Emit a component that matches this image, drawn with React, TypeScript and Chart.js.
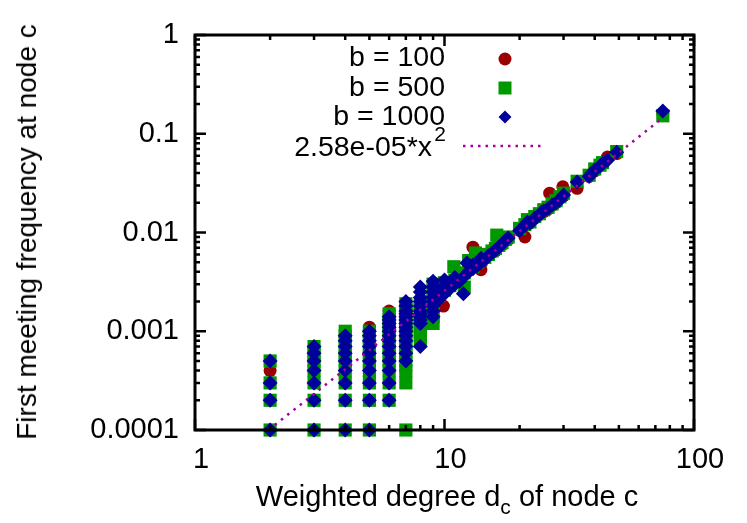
import React, { useEffect, useRef } from "react";
import { Chart, registerables } from "chart.js";

Chart.register(...registerables);

const FONT = "'Liberation Sans', Arial, Helvetica, sans-serif";

// Axis ticks
const xTickValues = [1, 10, 100];
const xTickLabels = ["1", "10", "100"];
const xMinorTicks = [2, 3, 4, 5, 6, 7, 8, 9, 20, 30, 40, 50, 60, 70, 80, 90];
const yTickValues = [1, 0.1, 0.01, 0.001, 0.0001];
const yTickLabels = ["1", "0.1", "0.01", "0.001", "0.0001"];
const yMinorTicks = [
  0.0002, 0.0003, 0.0004, 0.0005, 0.0006, 0.0007, 0.0008, 0.0009,
  0.002, 0.003, 0.004, 0.005, 0.006, 0.007, 0.008, 0.009,
  0.02, 0.03, 0.04, 0.05, 0.06, 0.07, 0.08, 0.09,
  0.2, 0.3, 0.4, 0.5, 0.6, 0.7, 0.8, 0.9,
];

// Series labels
const seriesLabels = ["b = 100", "b = 500", "b = 1000"];
const fitLabel = "2.58e-05*x";
const fitExponent = "2";

// Fit line end points
const fitX = [1.97, 75];
const fitY = [0.0001, 0.145];

// b = 100 (red circles): [degree, frequency]
const b100Points: [number, number][] = [
  [2, 0.0001], [2, 0.0002], [2, 0.0003], [2, 0.0004],
  [3, 0.0001], [3, 0.0002], [3, 0.0003], [3, 0.0004], [3, 0.0005], [3, 0.0006],
  [4, 0.0002], [4, 0.0003], [4, 0.0004], [4, 0.0005], [4, 0.0006], [4, 0.0007], [4, 0.0008], [4, 0.0009],
  [5, 0.0002], [5, 0.0003], [5, 0.0004], [5, 0.0005], [5, 0.0006], [5, 0.0007], [5, 0.0008], [5, 0.0009], [5, 0.001], [5, 0.0011],
  [6, 0.0003], [6, 0.0004], [6, 0.0005], [6, 0.0006], [6, 0.0007], [6, 0.0008], [6, 0.0009], [6, 0.001], [6, 0.0012], [6, 0.0014], [6, 0.0016],
  [7, 0.0004], [7, 0.0006], [7, 0.0007], [7, 0.0008], [7, 0.0009], [7, 0.001], [7, 0.0012], [7, 0.0014], [7, 0.0016], [7, 0.0019],
  [8, 0.001], [8, 0.0012], [8, 0.0014], [8, 0.0016], [8, 0.0018], [8, 0.002],
  [9, 0.0014], [9, 0.0017], [9, 0.002], [9, 0.0024], [9, 0.0028],
  [9.9, 0.0018], [10, 0.0027], [10.5, 0.003], [11, 0.0032], [11.5, 0.0034], [12, 0.0038], [12.5, 0.0042],
  [13, 0.0071], [13, 0.0045], [14, 0.0042], [14, 0.0052], [15, 0.006], [16, 0.0065], [17, 0.0075], [18, 0.0085],
  [20, 0.0105], [21, 0.009], [21, 0.012], [22, 0.0125], [23, 0.014], [24, 0.0152], [25, 0.0163], [26, 0.0172],
  [26.4, 0.025], [27, 0.0188], [28, 0.02], [29.8, 0.029], [30, 0.0235], [34, 0.028], [38, 0.037], [40, 0.042],
  [43, 0.05], [45, 0.058], [49, 0.063], [75, 0.16],
];

// b = 500 (green squares)
const b500Points: [number, number][] = [
  [2, 0.0001], [2, 0.0002], [2, 0.0003], [2, 0.0005],
  [3, 0.0001], [3, 0.0002], [3, 0.0003], [3, 0.0004], [3, 0.0005], [3, 0.0006], [3, 0.0007],
  [4, 0.0001], [4, 0.0002], [4, 0.0003], [4, 0.0004], [4, 0.0005], [4, 0.0006], [4, 0.0007], [4, 0.0008], [4, 0.0009], [4, 0.001],
  [5, 0.0001], [5, 0.0002], [5, 0.0003], [5, 0.0004], [5, 0.0005], [5, 0.0006], [5, 0.0007], [5, 0.0008], [5, 0.0009], [5, 0.001],
  [6, 0.0002], [6, 0.0003], [6, 0.0004], [6, 0.0005], [6, 0.0006], [6, 0.0007], [6, 0.0008], [6, 0.0009], [6, 0.001], [6, 0.0011], [6, 0.0012], [6, 0.0013], [6, 0.0015],
  [7, 0.0001], [7, 0.0003], [7, 0.0004], [7, 0.0005], [7, 0.0006], [7, 0.0007], [7, 0.0008], [7, 0.0009], [7, 0.001], [7, 0.0011], [7, 0.0012], [7, 0.0013], [7, 0.0014], [7, 0.0015], [7, 0.0016], [7, 0.0017], [7, 0.0019],
  [8, 0.0008], [8, 0.0009], [8, 0.001], [8, 0.0011], [8, 0.0012], [8, 0.0013], [8, 0.0014], [8, 0.0015], [8, 0.0016], [8, 0.0017], [8, 0.0018], [8, 0.0019],
  [9, 0.0012], [9, 0.0014], [9, 0.0016], [9, 0.0018], [9, 0.002], [9, 0.0023], [9, 0.0026], [9, 0.003],
  [9.5, 0.0023], [10, 0.0026], [10, 0.0031], [10.5, 0.0029], [10.9, 0.0045], [11, 0.0033], [11.5, 0.0035],
  [12, 0.0028], [12, 0.0039], [12.5, 0.0052], [13, 0.0045], [13.3, 0.0062], [13.5, 0.005], [14, 0.0053],
  [14.5, 0.0056], [15, 0.006], [15.5, 0.0065], [16, 0.0069], [16.2, 0.0094], [16.5, 0.0074], [17, 0.0079],
  [17.5, 0.0085], [18, 0.009], [20, 0.011], [21, 0.012], [21.5, 0.0135], [22, 0.0128], [23, 0.0145],
  [24, 0.0155], [25, 0.017], [26, 0.018], [27, 0.0195], [28, 0.021], [29, 0.023], [30, 0.025], [34, 0.033],
  [38, 0.038], [40, 0.044], [42, 0.048], [43, 0.051], [49, 0.066], [75, 0.152],
];

// b = 1000 (blue diamonds)
const b1000Points: [number, number][] = [
  [2, 0.0001], [2, 0.0002], [2, 0.0003], [2, 0.0005],
  [3, 0.0001], [3, 0.0002], [3, 0.0003], [3, 0.0004], [3, 0.0005], [3, 0.0006], [3, 0.0007],
  [4, 0.0001], [4, 0.0002], [4, 0.0003], [4, 0.0004], [4, 0.0005], [4, 0.0006], [4, 0.0007], [4, 0.0008], [4, 0.0009],
  [5, 0.0001], [5, 0.0002], [5, 0.0003], [5, 0.0004], [5, 0.0005], [5, 0.0006], [5, 0.0007], [5, 0.0008], [5, 0.0009], [5, 0.001],
  [6, 0.0002], [6, 0.0003], [6, 0.0004], [6, 0.0005], [6, 0.0006], [6, 0.0007], [6, 0.0008], [6, 0.0009], [6, 0.001], [6, 0.0011], [6, 0.0012], [6, 0.0013], [6, 0.0014],
  [7, 0.0005], [7, 0.0006], [7, 0.0007], [7, 0.0008], [7, 0.0009], [7, 0.001], [7, 0.0011], [7, 0.0012], [7, 0.0013], [7, 0.0014], [7, 0.0015], [7, 0.0016], [7, 0.0018], [7, 0.002],
  [8, 0.0007], [8, 0.0012], [8, 0.0013], [8, 0.0014], [8, 0.0015], [8, 0.0016], [8, 0.0018], [8, 0.002], [8, 0.0022], [8, 0.0025], [8, 0.0028],
  [9, 0.0014], [9, 0.0016], [9, 0.0018], [9, 0.002], [9, 0.0022], [9, 0.0025], [9, 0.0028], [9, 0.0032],
  [9.5, 0.0021], [9.5, 0.0026], [10, 0.0024], [10, 0.0028], [10, 0.0033], [10.5, 0.0027], [10.5, 0.0031],
  [11, 0.003], [11, 0.0035], [11.5, 0.0032], [11.9, 0.0024], [12, 0.0036], [12.3, 0.0049], [12.5, 0.004],
  [13, 0.0043], [13, 0.0047], [13.5, 0.0046], [14, 0.005], [14, 0.0055], [14.5, 0.0053], [15, 0.0058],
  [15.5, 0.0062], [16, 0.0066], [16.5, 0.0071], [17, 0.0076], [17.5, 0.0082], [18, 0.0088], [20, 0.0105],
  [21, 0.0118], [21.5, 0.0128], [22, 0.0125], [22.5, 0.013], [23, 0.014], [24, 0.015], [24.5, 0.016],
  [25, 0.0165], [26, 0.0175], [27, 0.019], [28, 0.02], [29, 0.0215], [30, 0.024], [34, 0.0325], [38, 0.037],
  [39, 0.04], [40, 0.043], [42, 0.047], [43, 0.05], [45, 0.054], [49, 0.065], [75, 0.17],
];

const RED = "#9a0000";
const GREEN = "#009a00";
const BLUE = "#00009a";
const PURPLE = "#a000a0";

const toXY = (pts: [number, number][]) => pts.map(([x, y]) => ({ x, y }));

const framePlugin = {
  id: "gnuFrame",
  afterDatasetsDraw(chart: any) {
    const { ctx, chartArea: a, scales } = chart;
    const xs = scales.x;
    const ys = scales.y;
    ctx.save();
    ctx.strokeStyle = "#000";
    ctx.lineWidth = 2.5;
    ctx.beginPath();
    const vt = (v: number, len: number) => {
      const px = xs.getPixelForValue(v);
      ctx.moveTo(px, a.bottom);
      ctx.lineTo(px, a.bottom - len);
      ctx.moveTo(px, a.top);
      ctx.lineTo(px, a.top + len);
    };
    const ht = (v: number, len: number) => {
      const py = ys.getPixelForValue(v);
      ctx.moveTo(a.left, py);
      ctx.lineTo(a.left + len, py);
      ctx.moveTo(a.right, py);
      ctx.lineTo(a.right - len, py);
    };
    xTickValues.forEach((v) => vt(v, 11));
    xMinorTicks.forEach((v) => vt(v, 5));
    yTickValues.forEach((v) => ht(v, 11));
    yMinorTicks.forEach((v) => ht(v, 5));
    ctx.stroke();
    ctx.lineWidth = 3;
    ctx.strokeRect(a.left, a.top, a.right - a.left, a.bottom - a.top);
    ctx.restore();
  },
  afterDraw(chart: any) {
    const { ctx } = chart;
    ctx.save();
    ctx.fillStyle = "#000";
    ctx.font = `28.5px ${FONT}`;
    ctx.textAlign = "right";
    ctx.textBaseline = "middle";
    const textRight = 445;
    const markX = 505;
    const rows = [58, 88, 117, 148];
    ctx.fillText(seriesLabels[0], textRight, rows[0]);
    ctx.fillText(seriesLabels[1], textRight, rows[1]);
    ctx.fillText(seriesLabels[2], textRight, rows[2]);
    ctx.fillText(fitLabel, textRight - 13, rows[3]);
    ctx.font = `21px ${FONT}`;
    ctx.fillText(fitExponent, textRight + 1, rows[3] - 13);
    // markers
    ctx.fillStyle = RED;
    ctx.beginPath();
    ctx.arc(markX, rows[0] + 1, 6.5, 0, Math.PI * 2);
    ctx.fill();
    ctx.fillStyle = GREEN;
    ctx.fillRect(markX - 6.5, rows[1] - 6.5, 13, 13);
    ctx.fillStyle = BLUE;
    ctx.beginPath();
    ctx.moveTo(markX - 6.5, rows[2]);
    ctx.lineTo(markX, rows[2] - 6.5);
    ctx.lineTo(markX + 6.5, rows[2]);
    ctx.lineTo(markX, rows[2] + 6.5);
    ctx.closePath();
    ctx.fill();
    ctx.strokeStyle = PURPLE;
    ctx.lineWidth = 2.5;
    ctx.setLineDash([2.5, 5]);
    ctx.beginPath();
    ctx.moveTo(463, rows[3] - 2);
    ctx.lineTo(545, rows[3] - 2);
    ctx.stroke();
    ctx.restore();
  },
};

export default function App() {
  const ref = useRef<HTMLCanvasElement>(null);
  useEffect(() => {
    if (!ref.current) return;
    Chart.defaults.font.family = FONT;
    const chart = new Chart(ref.current, {
      type: "scatter",
      data: {
        datasets: [
          {
            label: fitLabel,
            type: "line",
            data: fitX.map((x, i) => ({ x, y: fitY[i] })),
            borderColor: PURPLE,
            borderWidth: 2.5,
            borderDash: [2.5, 5.5],
            pointRadius: 0,
            fill: false,
            order: 0,
          } as any,
          {
            label: seriesLabels[2],
            data: toXY(b1000Points),
            pointStyle: "rectRot",
            pointRadius: 7.5,
            backgroundColor: BLUE,
            borderWidth: 0,
            order: 1,
          },
          {
            label: seriesLabels[1],
            data: toXY(b500Points),
            pointStyle: "rect",
            pointRadius: 9.3,
            backgroundColor: GREEN,
            borderWidth: 0,
            order: 2,
          },
          {
            label: seriesLabels[0],
            data: toXY(b100Points),
            pointStyle: "circle",
            pointRadius: 6.5,
            backgroundColor: RED,
            borderWidth: 0,
            order: 3,
          },
        ],
      },
      options: {
        responsive: false,
        animation: false,
        clip: false as any,
        layout: { padding: { left: 0, right: 53, top: 35, bottom: 0 } },
        plugins: { legend: { display: false }, tooltip: { enabled: false } },
        scales: {
          x: {
            type: "logarithmic",
            min: 1,
            max: 100,
            grid: { display: false, drawTicks: false },
            border: { display: false },
            afterFit: (s: any) => {
              s.height = 93;
            },
            afterBuildTicks: (s: any) => {
              s.ticks = xTickValues.map((v) => ({ value: v }));
            },
            ticks: {
              autoSkip: false,
              maxRotation: 0,
              padding: 13,
              labelOffset: 6,
              color: "#000",
              font: { size: 29, family: FONT },
              callback: (v: any) => {
                const i = xTickValues.indexOf(Number(v));
                return i >= 0 ? xTickLabels[i] : "";
              },
            },
          },
          y: {
            type: "logarithmic",
            min: 0.0001,
            max: 1,
            grid: { display: false, drawTicks: false },
            border: { display: false },
            afterFit: (s: any) => {
              s.width = 195;
            },
            afterBuildTicks: (s: any) => {
              s.ticks = yTickValues.map((v) => ({ value: v }));
            },
            ticks: {
              autoSkip: false,
              padding: 16,
              color: "#000",
              font: { size: 29, family: FONT },
              callback: (v: any) => {
                const i = yTickValues.findIndex((t) => Math.abs(t - Number(v)) < t * 1e-6);
                return i >= 0 ? yTickLabels[i] : "";
              },
            },
          },
        },
      },
      plugins: [framePlugin],
    });
    return () => chart.destroy();
  }, []);

  return (
    <div
      style={{
        position: "absolute",
        left: 0,
        top: 0,
        width: 747,
        height: 523,
        background: "#fff",
        fontFamily: FONT,
        color: "#000",
      }}
    >
      <canvas ref={ref} width={747} height={523} style={{ display: "block", width: 747, height: 523 }} />
      <div
        style={{
          position: "absolute",
          left: 447,
          top: 497,
          transform: "translate(-50%, -50%)",
          fontSize: 29,
          lineHeight: "32px",
          whiteSpace: "nowrap",
        }}
      >
        Weighted degree d
        <span style={{ fontSize: 21, position: "relative", top: 8 }}>c</span> of node c
      </div>
      <div
        style={{
          position: "absolute",
          left: 27,
          top: 232,
          transform: "translate(-50%, -50%) rotate(-90deg)",
          fontSize: 28,
          lineHeight: "30px",
          whiteSpace: "nowrap",
        }}
      >
        First meeting frequency at node c
      </div>
    </div>
  );
}
